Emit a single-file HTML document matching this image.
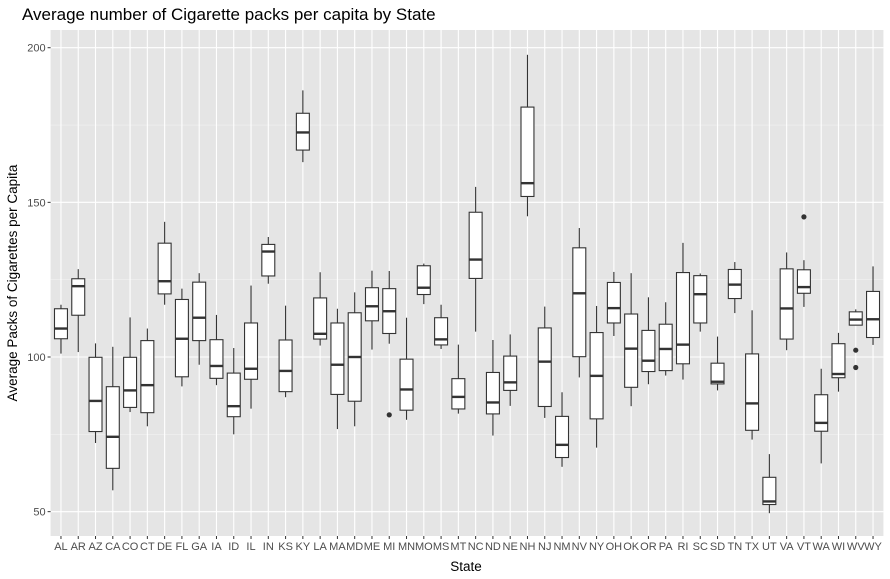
<!DOCTYPE html>
<html><head><meta charset="utf-8"><style>
body{margin:0;background:#fff;font-family:"Liberation Sans",Arial,sans-serif}
svg{display:block}
</style></head><body>
<svg id="chart" width="890" height="579">
<text x="22" y="20" font-size="17" fill="#000">Average number of Cigarette packs per capita by State</text>
<text x="466" y="571" font-size="13.5" text-anchor="middle" fill="#000">State</text>
<text transform="translate(17,283) rotate(-90)" font-size="13.5" text-anchor="middle" fill="#000">Average Packs of Cigarettes per Capita</text>
</svg>
<script>
const states=["AL","AR","AZ","CA","CO","CT","DE","FL","GA","IA","ID","IL","IN","KS","KY","LA","MA","MD","ME","MI","MN","MO","MS","MT","NC","ND","NE","NH","NJ","NM","NV","NY","OH","OK","OR","PA","RI","SC","SD","TN","TX","UT","VA","VT","WA","WI","WV","WY"];
const whiskerHigh=[116.9,128.4,104.4,103.3,112.8,109.2,143.7,122.1,127.1,113.6,102.9,123.1,138.8,116.6,186.2,127.4,115.6,120.9,127.9,127.8,112.7,130.2,116.9,104.0,155.0,105.5,107.3,197.7,116.3,88.6,141.7,116.5,127.5,127.1,119.3,117.7,136.9,127.0,106.6,130.7,115.1,68.6,133.8,131.3,96.2,107.8,115.4,129.3];
const q3=[115.6,125.3,99.9,90.4,99.9,105.3,136.8,118.6,124.2,105.6,94.8,111.0,136.4,105.5,178.8,119.1,111.0,114.3,122.4,122.1,99.3,129.5,112.7,93.0,146.8,95.0,100.3,180.8,109.4,80.8,135.3,107.9,124.1,113.9,108.6,110.6,127.3,126.3,98.0,128.3,101.0,61.1,128.5,128.2,87.8,104.3,114.6,121.2];
const medians=[109.2,122.9,85.8,74.2,89.2,90.9,124.5,105.9,112.7,97.1,84.1,96.2,134.1,95.5,172.6,107.5,97.5,100.0,116.4,114.8,89.5,122.4,105.7,87.1,131.5,85.3,91.8,156.2,98.5,71.6,120.6,93.9,115.8,102.7,98.8,102.6,104.0,120.3,92.0,123.4,85.0,53.3,115.7,122.6,78.7,94.5,112.1,112.2];
const q1=[105.9,113.5,75.9,64.0,83.7,82.0,120.4,93.6,105.3,93.1,80.7,92.8,126.2,88.8,166.9,105.8,87.9,85.7,111.7,107.6,82.8,120.2,103.9,83.2,125.4,81.6,89.2,151.9,84.0,67.5,100.1,80.0,111.0,90.2,95.3,95.6,97.8,111.0,91.3,118.9,76.3,52.3,105.8,120.6,76.0,93.3,110.3,106.3];
const whiskerLow=[101.1,101.6,72.2,56.9,82.2,77.6,116.9,90.5,97.5,90.9,75.0,83.3,123.7,87.0,163.0,103.7,76.7,77.6,102.4,104.3,79.7,117.1,102.6,81.7,108.2,74.6,84.2,145.5,80.3,64.5,93.4,70.7,106.8,84.1,91.2,94.0,92.7,108.2,89.2,114.2,73.3,49.5,102.2,116.2,65.6,88.8,110.3,103.9];
const outlierStates=["MI","VT","WV","WV"];
const outlierValues=[81.3,145.3,102.2,96.6];
const yTicks=[50,100,150,200];
const yMinor=[75,125,175];

const NS="http://www.w3.org/2000/svg";
const svg=document.getElementById('chart');
const P={l:50.6,r:883.4,t:30,b:536};
const step=(P.r-P.l)/(states.length-1+1.2);
const xs=i=>P.l+(0.6+i)*step;
const ys=v=>357-(v-100)*3.093;
function mk(tag,attrs,parent){const e=document.createElementNS(NS,tag);for(const k in attrs)e.setAttribute(k,attrs[k]);(parent||svg).appendChild(e);return e;}
const panel=mk('rect',{x:P.l,y:P.t,width:P.r-P.l,height:P.b-P.t,fill:'#e5e5e5'});


yMinor.forEach(v=>{const l=mk('line',{x1:P.l,x2:P.r,y1:ys(v),y2:ys(v),stroke:'#f2f2f2','stroke-width':0.6});

});
yTicks.forEach(v=>{const l=mk('line',{x1:P.l,x2:P.r,y1:ys(v),y2:ys(v),stroke:'#fff','stroke-width':1.1});


const t=mk('line',{x1:P.l-3,x2:P.l,y1:ys(v),y2:ys(v),stroke:'#333','stroke-width':1});


const tx=mk('text',{x:P.l-5,y:ys(v)+4,'font-size':11,'text-anchor':'end',fill:'#4d4d4d'});tx.textContent=v;

});
states.forEach((s,i)=>{const x=xs(i);
const g=mk('line',{x1:x,x2:x,y1:P.t,y2:P.b,stroke:'#fff','stroke-width':1.1});


const t=mk('line',{x1:x,x2:x,y1:P.b,y2:P.b+3,stroke:'#333','stroke-width':1});


const tx=mk('text',{x:x,y:P.b+14,'font-size':11,'text-anchor':'middle',fill:'#4d4d4d'});tx.textContent=s;

});
const bw=step*0.75;
states.forEach((s,i)=>{const x=xs(i);
const g=mk('g',{});


mk('line',{x1:x,x2:x,y1:ys(whiskerHigh[i]),y2:ys(q3[i]),stroke:'#333','stroke-width':1.1},g);
mk('line',{x1:x,x2:x,y1:ys(q1[i]),y2:ys(whiskerLow[i]),stroke:'#333','stroke-width':1.1},g);
mk('rect',{x:x-bw/2,y:ys(q3[i]),width:bw,height:Math.max(0.5,ys(q1[i])-ys(q3[i])),fill:'#fff',stroke:'#333','stroke-width':1.1},g);
mk('line',{x1:x-bw/2,x2:x+bw/2,y1:ys(medians[i]),y2:ys(medians[i]),stroke:'#333','stroke-width':2.4},g);});
outlierStates.forEach((s,j)=>{const i=states.indexOf(s);
const c=mk('circle',{cx:xs(i),cy:ys(outlierValues[j]),r:2.6,fill:'#333'});

});
</script>
</body></html>
